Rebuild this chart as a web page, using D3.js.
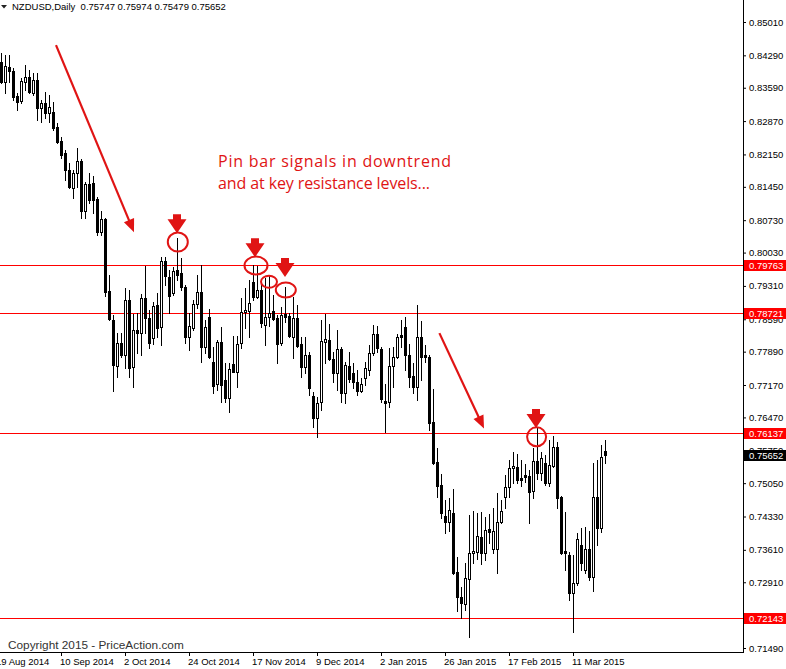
<!DOCTYPE html>
<html><head><meta charset="utf-8">
<script src="https://cdn.jsdelivr.net/npm/d3@7"></script>
<style>
html,body{margin:0;padding:0;background:#fff;}
svg{display:block;}
</style></head><body>
<svg id="c" width="786" height="669"></svg>
<script>
// ---- DATA ----
const symbolTitle = "NZDUSD,Daily";
const open = [
0.8415,0.8371,0.8404,0.8395,0.8341,0.8330,0.8371,0.8382,0.8348,0.8376,
0.8315,0.8326,0.8304,0.8307,0.8274,0.8244,0.8218,0.8181,0.8142,0.8175,
0.8201,0.8093,0.8151,0.8153,0.8119,0.8047,0.8075,0.7920,0.7857,0.7758,
0.7808,0.7782,0.7901,0.7756,0.7836,0.7829,0.7905,0.7862,0.7818,0.7890,
0.7842,0.7985,0.7950,0.7916,0.7965,0.7959,0.7929,0.7821,0.7840,0.7892,
0.7918,0.7799,0.7864,0.7767,0.7719,0.7810,0.7728,0.7689,0.7762,0.7745,
0.7808,0.7875,0.7877,0.7939,0.7907,0.7922,0.7847,0.7864,0.7877,0.7862,
0.7808,0.7870,0.7866,0.7821,0.7862,0.7805,0.7756,0.7782,0.7693,0.7646,
0.7680,0.7810,0.7814,0.7773,0.7743,0.7795,0.7700,0.7758,0.7743,0.7723,
0.7704,0.7732,0.7749,0.7786,0.7827,0.7795,0.7682,0.7680,0.7758,0.7777,
0.7825,0.7842,0.7782,0.7736,0.7713,0.7821,0.7782,0.7777,0.7637,0.7551,
0.7501,0.7434,0.7421,0.7440,0.7313,0.7259,0.7244,0.7298,0.7354,0.7356,
0.7389,0.7354,0.7406,0.7363,0.7363,0.7421,0.7475,0.7497,0.7538,0.7540,
0.7516,0.7523,0.7520,0.7488,0.7553,0.7527,0.7548,0.7505,0.7542,0.7583,
0.7475,0.7358,0.7350,0.7268,0.7289,0.7371,0.7317,0.7363,0.7302,0.7475,
0.7408,0.75747];
const high = [
0.8434,0.8430,0.8430,0.8402,0.8348,0.8380,0.8408,0.8397,0.8391,0.8391,
0.8333,0.8350,0.8343,0.8328,0.8283,0.8253,0.8225,0.8196,0.8181,0.8229,
0.8205,0.8155,0.8175,0.8168,0.8123,0.8093,0.8078,0.7954,0.7868,0.7829,
0.7829,0.7926,0.7922,0.7870,0.7872,0.7913,0.7974,0.7879,0.7896,0.7916,
0.7993,0.7993,0.7965,0.7972,0.8034,0.7991,0.7933,0.7872,0.7901,0.7954,
0.7976,0.7857,0.7881,0.7799,0.7814,0.7842,0.7764,0.7764,0.7823,0.7823,
0.7905,0.7926,0.7944,0.7976,0.7974,0.7933,0.7948,0.7952,0.7911,0.7868,
0.7885,0.7929,0.7872,0.7907,0.7890,0.7821,0.7821,0.7788,0.7702,0.7691,
0.7857,0.7870,0.7849,0.7788,0.7836,0.7799,0.7767,0.7788,0.7764,0.7749,
0.7732,0.7767,0.7803,0.7847,0.7844,0.7799,0.7719,0.7797,0.7799,0.7827,
0.7857,0.7864,0.7805,0.7764,0.7890,0.7855,0.7803,0.7782,0.7708,0.7581,
0.7525,0.7469,0.7473,0.7492,0.7345,0.7281,0.7332,0.7436,0.7445,0.7440,
0.7443,0.7432,0.7438,0.7451,0.7484,0.7469,0.7523,0.7555,0.7572,0.7568,
0.7555,0.7546,0.7533,0.7581,0.7624,0.7572,0.7566,0.7598,0.7607,0.7594,
0.7477,0.7443,0.7356,0.7350,0.7397,0.7408,0.7410,0.7402,0.7548,0.7555,
0.7587,0.75974];
const low = [
0.8369,0.8348,0.8371,0.8333,0.8311,0.8326,0.8354,0.8348,0.8343,0.8289,
0.8285,0.8294,0.8285,0.8268,0.8240,0.8207,0.8160,0.8142,0.8121,0.8145,
0.8078,0.8078,0.8110,0.8088,0.8041,0.8041,0.7909,0.7857,0.7704,0.7734,
0.7777,0.7754,0.7734,0.7713,0.7786,0.7782,0.7829,0.7797,0.7805,0.7821,
0.7803,0.7933,0.7872,0.7911,0.7944,0.7922,0.7808,0.7793,0.7836,0.7883,
0.7767,0.7786,0.7775,0.7700,0.7706,0.7680,0.7680,0.7659,0.7745,0.7713,
0.7797,0.7840,0.7821,0.7901,0.7905,0.7842,0.7803,0.7844,0.7857,0.7764,
0.7803,0.7853,0.7821,0.7775,0.7799,0.7734,0.7743,0.7695,0.7626,0.7605,
0.7663,0.7764,0.7771,0.7723,0.7706,0.7680,0.7678,0.7723,0.7710,0.7695,
0.7702,0.7717,0.7739,0.7782,0.7788,0.7680,0.7615,0.7669,0.7713,0.7775,
0.7799,0.7749,0.7713,0.7700,0.7685,0.7728,0.7767,0.7620,0.7546,0.7475,
0.7430,0.7397,0.7402,0.7309,0.7229,0.7214,0.7231,0.7173,0.7332,0.7341,
0.7330,0.7339,0.7376,0.7354,0.7311,0.7419,0.7451,0.7475,0.7505,0.7505,
0.7499,0.7507,0.7419,0.7473,0.7514,0.7512,0.7501,0.7499,0.7540,0.7451,
0.7352,0.7317,0.7253,0.7183,0.7285,0.7317,0.7311,0.7296,0.7272,0.7371,
0.7399,0.75479];
const close = [
0.8371,0.8406,0.8395,0.8339,0.8328,0.8374,0.8382,0.8350,0.8376,0.8315,
0.8326,0.8304,0.8317,0.8272,0.8242,0.8214,0.8181,0.8145,0.8175,0.8201,
0.8093,0.8151,0.8117,0.8117,0.8047,0.8075,0.7918,0.7859,0.7760,0.7808,
0.7782,0.7901,0.7754,0.7836,0.7829,0.7905,0.7862,0.7808,0.7888,0.7840,
0.7985,0.7952,0.7909,0.7963,0.7954,0.7929,0.7821,0.7844,0.7892,0.7918,
0.7799,0.7842,0.7777,0.7715,0.7810,0.7717,0.7689,0.7751,0.7745,0.7805,
0.7875,0.7879,0.7894,0.7907,0.7922,0.7851,0.7864,0.7872,0.7859,0.7805,
0.7868,0.7864,0.7823,0.7862,0.7801,0.7756,0.7782,0.7710,0.7646,0.7678,
0.7812,0.7816,0.7773,0.7743,0.7795,0.7700,0.7760,0.7730,0.7723,0.7704,
0.7719,0.7754,0.7786,0.7827,0.7797,0.7687,0.7678,0.7758,0.7777,0.7821,
0.7821,0.7782,0.7734,0.7713,0.7821,0.7777,0.7777,0.7635,0.7548,0.7499,
0.7440,0.7421,0.7447,0.7311,0.7259,0.7246,0.7300,0.7354,0.7358,0.7391,
0.7354,0.7404,0.7399,0.7402,0.7421,0.7445,0.7497,0.7538,0.7542,0.7512,
0.7512,0.7518,0.7486,0.7553,0.7527,0.7559,0.7505,0.7544,0.7583,0.7473,
0.7354,0.7354,0.7268,0.7289,0.7384,0.7332,0.7363,0.7302,0.7475,0.7408,
0.7561,0.75652];

const xTickIdx = [-1, 15, 31, 47, 63, 79, 95, 111, 127, 143];
const xTickLabels = ["19 Aug 2014","10 Sep 2014","2 Oct 2014","24 Oct 2014","17 Nov 2014",
  "9 Dec 2014","2 Jan 2015","26 Jan 2015","17 Feb 2015","11 Mar 2015"];
const yTickValues = [0.85010,0.84290,0.83590,0.82870,0.82150,0.81450,0.80730,0.80030,0.79310,
  0.78590,0.77890,0.77170,0.76470,0.75750,0.75050,0.74330,0.73610,0.72910,0.72190,0.71490];
const levels = [0.79763, 0.78721, 0.76137, 0.72143];
const lastPrice = 0.75652;

// annotations in data space (bar index, price)
const trendArrows = [
  {i1: 13.75, p1: 0.8451, i2: 33.25, p2: 0.8047},
  {i1: 109.6, p1: 0.7829, i2: 120.75, p2: 0.7623}
];
const pinCircles = [
  {i: 44.2, p: 0.8026, rx: 10, ry: 9.5},
  {i: 63.75, p: 0.7975, rx: 11.5, ry: 9},
  {i: 67.0, p: 0.7940, rx: 8, ry: 6},
  {i: 71.2, p: 0.7922, rx: 10, ry: 7.5},
  {i: 133.9, p: 0.7605, rx: 9.5, ry: 9.5}
];
const pinArrows = [
  {i: 44.0, p: 0.8045},
  {i: 63.5, p: 0.7993},
  {i: 71.0, p: 0.7950},
  {i: 133.75, p: 0.7624}
];
const noteLines = ["Pin bar signals in downtrend", "and at key resistance levels..."];
const noteWidths = [233, 212];
const copyright = "Copyright 2015 - PriceAction.com";

// ---- DRAW ----
const W = 786, H = 669, axisX = 743, axisY = 652;
const svg = d3.select("#c");
const FONT = "'Liberation Sans', Arial, sans-serif";
const x = d3.scaleLinear().domain([0, 151]).range([1, 605]);
const y = d3.scaleLinear().domain([0.71490, 0.85010]).range([648, 22]);
const RED = "#ff0000", ANN = "#e01414";

svg.append("rect").attr("width", W).attr("height", H).attr("fill", "#fff");
svg.append("defs").append("clipPath").attr("id", "plot")
  .append("rect").attr("x", 0).attr("y", 0).attr("width", axisX).attr("height", axisY);

const plot = svg.append("g").attr("clip-path", "url(#plot)");

// level lines
plot.selectAll("line.lvl").data(levels).enter().append("line")
  .attr("x1", 0).attr("x2", axisX)
  .attr("y1", d => Math.round(y(d)) + 0.5).attr("y2", d => Math.round(y(d)) + 0.5)
  .attr("stroke", RED).attr("stroke-width", 1);

// candles
const bars = d3.range(open.length).map(i => ({i, o: open[i], h: high[i], l: low[i], c: close[i]}));
const cg = plot.append("g");
bars.forEach(b => {
  const cx = Math.round(x(b.i));
  const yh = Math.round(y(b.h)), yl = Math.round(y(b.l));
  const top = Math.round(y(Math.max(b.o, b.c))), bot = Math.round(y(Math.min(b.o, b.c)));
  cg.append("line").attr("x1", cx + 0.5).attr("x2", cx + 0.5)
    .attr("y1", yh).attr("y2", yl + 1).attr("stroke", "#000").attr("stroke-width", 1);
  if (b.c >= b.o) {
    if (bot - top < 1) {
      cg.append("rect").attr("x", cx - 1).attr("y", top).attr("width", 3).attr("height", 1).attr("fill", "#000");
    } else {
      cg.append("rect").attr("x", cx - 0.5).attr("y", top + 0.5).attr("width", 2).attr("height", bot - top)
        .attr("fill", "#fff").attr("stroke", "#000").attr("stroke-width", 1);
    }
  } else {
    cg.append("rect").attr("x", cx - 1).attr("y", top).attr("width", 3).attr("height", bot - top + 1)
      .attr("fill", "#000");
  }
});

// trend arrows
trendArrows.forEach(a => {
  const x1 = x(a.i1), y1 = y(a.p1), x2 = x(a.i2), y2 = y(a.p2);
  const ang = Math.atan2(y2 - y1, x2 - x1);
  const L = 13, hw = 5.5;
  const bx = x2 - L * Math.cos(ang), by = y2 - L * Math.sin(ang);
  plot.append("line").attr("x1", x1).attr("y1", y1).attr("x2", bx + 2 * Math.cos(ang)).attr("y2", by + 2 * Math.sin(ang))
    .attr("stroke", ANN).attr("stroke-width", 2.2);
  const px = -Math.sin(ang), py = Math.cos(ang);
  plot.append("path").attr("d", `M${x2},${y2}L${bx + px * hw},${by + py * hw}L${bx - px * hw},${by - py * hw}Z`)
    .attr("fill", ANN);
});

// pin circles
plot.selectAll("ellipse").data(pinCircles).enter().append("ellipse")
  .attr("cx", d => x(d.i)).attr("cy", d => y(d.p)).attr("rx", d => d.rx).attr("ry", d => d.ry)
  .attr("fill", "none").attr("stroke", ANN).attr("stroke-width", 2);

// pin arrows (block arrows pointing down)
plot.selectAll("path.pa").data(pinArrows).enter().append("path")
  .attr("d", d => {
    const tx = x(d.i), ty = y(d.p);
    const sw = 4, th = 14, tw = 9.5, sh = 5;
    return `M${tx - sw},${ty - th - sh}L${tx + sw},${ty - th - sh}L${tx + sw},${ty - th}L${tx + tw},${ty - th}` +
      `L${tx},${ty}L${tx - tw},${ty - th}L${tx - sw},${ty - th}Z`;
  })
  .attr("fill", ANN);

// note text
plot.selectAll("text.note").data(noteLines).enter().append("text")
  .attr("x", 218).attr("y", (d, k) => 167 + k * 22)
  .attr("font-family", "'Open Sans', sans-serif").attr("font-size", 16)
  .attr("textLength", (d, k) => noteWidths[k]).attr("lengthAdjust", "spacing")
  .attr("fill", ANN).text(d => d);

// copyright
plot.append("text").attr("x", 8).attr("y", 649)
  .attr("font-family", FONT).attr("font-size", 11.8).attr("fill", "#333").text(copyright);

// title
svg.append("path").attr("d", "M1,5L7,5L4,8.5Z").attr("fill", "#222");
svg.append("text").attr("x", 12).attr("y", 10).attr("font-family", FONT).attr("font-size", 9.5)
  .attr("fill", "#000")
  .text(`${symbolTitle}  ${open[151].toFixed(5)} ${high[151].toFixed(5)} ${low[151].toFixed(5)} ${close[151].toFixed(5)}`)
  .attr("xml:space", "preserve").style("white-space", "pre");

// right axis
const yAxis = d3.axisRight(y).tickValues(yTickValues).tickFormat(d3.format(".5f")).tickSize(3).tickPadding(3).tickSizeOuter(0);
const ya = svg.append("g").attr("transform", `translate(${axisX},0)`).call(yAxis);
ya.select(".domain").remove();
ya.selectAll("text").attr("font-family", FONT).attr("font-size", 9.5).attr("fill", "#000");
ya.selectAll("line").attr("stroke", "#000");

// bottom axis
const xAxis = d3.axisBottom(x).tickValues(xTickIdx).tickFormat((d, k) => xTickLabels[k]).tickSize(4).tickSizeOuter(0);
const xa = svg.append("g").attr("transform", `translate(0,${axisY})`).call(xAxis);
xa.select(".domain").remove();
xa.selectAll("text").attr("text-anchor", "start").attr("x", -1.5).attr("y", 13).attr("dy", 0)
  .attr("font-family", FONT).attr("font-size", 9.5).attr("fill", "#000");
xa.selectAll("line").attr("stroke", "#000");

// axis lines
svg.append("line").attr("x1", axisX + 0.5).attr("x2", axisX + 0.5).attr("y1", 0).attr("y2", axisY + 1).attr("stroke", "#000");
svg.append("line").attr("x1", 0).attr("x2", axisX + 1).attr("y1", axisY + 0.5).attr("y2", axisY + 0.5).attr("stroke", "#000");

// level labels
const lab = svg.append("g");
levels.forEach(v => {
  const yy = Math.round(y(v));
  lab.append("rect").attr("x", axisX + 1).attr("y", yy - 5).attr("width", W - axisX - 1).attr("height", 11).attr("fill", RED);
  lab.append("text").attr("x", 749).attr("y", yy + 4).attr("font-family", FONT).attr("font-size", 9.5)
    .attr("fill", "#fff").text(v.toFixed(5));
});
{
  const yy = Math.round(y(lastPrice));
  lab.append("rect").attr("x", axisX + 1).attr("y", yy - 5).attr("width", W - axisX - 1).attr("height", 11).attr("fill", "#000");
  lab.append("text").attr("x", 749).attr("y", yy + 4).attr("font-family", FONT).attr("font-size", 9.5)
    .attr("fill", "#fff").text(lastPrice.toFixed(5));
}
</script>
</body></html>
